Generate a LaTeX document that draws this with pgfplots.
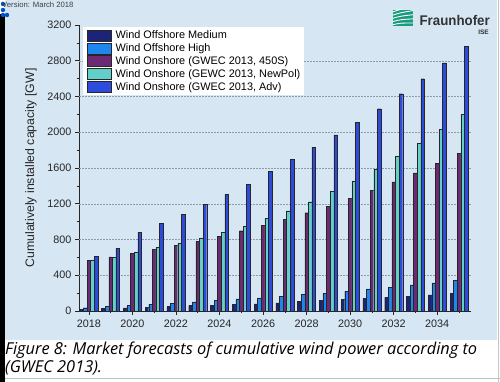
\documentclass[border=0pt]{standalone}
\usepackage{pgfplots}
\usepackage{pgfplotstable}
\pgfplotsset{compat=1.18}
\usepackage{fontspec}
\usepackage{graphicx}
\setmainfont{Liberation Sans}
\newfontfamily\capfont{Open Sans}
\definecolor{bgblue}{HTML}{D6E6F3}
\definecolor{cNavy}{HTML}{1C2478}
\definecolor{cLB}{HTML}{1E86EE}
\definecolor{cPur}{HTML}{6C2A74}
\definecolor{cCyan}{HTML}{62D0C8}
\definecolor{cBlue}{HTML}{2D4CDC}
\definecolor{fhgreen}{HTML}{179C7D}
\definecolor{gridc}{HTML}{8E9BA8}
\newlength\capw
\pgfplotstableread{
year navy lb pur cyan blue
2018 22 37 565 565 613
2019 30 49 606 598 703
2020 34 60 643 662 883
2021 41 75 688 711 980
2022 49 86 733 759 1081
2023 60 101 778 819 1197
2024 67 120 838 883 1309
2025 75 135 898 950 1417
2026 79 148 960 1034 1560
2027 90 161 1025 1122 1694
2028 105 183 1100 1223 1833
2029 116 198 1174 1339 1971
2030 127 221 1264 1455 2109
2031 142 247 1350 1586 2263
2032 153 266 1444 1728 2431
2033 161 292 1545 1874 2599
2034 180 314 1653 2031 2775
2035 198 340 1765 2199 2962
}\data
\begin{document}
\settowidth{\capw}{\capfont\itshape\fontsize{16.4}{18}\selectfont Figure 8: Market forecasts of cumulative wind power according to}%
\pgfmathsetmacro\capsx{472/\capw}%
\begin{tikzpicture}
\useasboundingbox (0pt,0pt) rectangle (500pt,382pt);
\fill[white] (0pt,0pt) rectangle (500pt,382pt);
\fill[bgblue] (5pt,42pt) rectangle (497pt,382pt);
\fill[black] (0pt,0pt) rectangle (5pt,368pt);
\draw[gray!45, line width=1pt] (498.5pt,0pt) -- (498.5pt,382pt);
\draw[gray!50, line width=0.8pt] (5pt,4pt) -- (500pt,4pt);
% icons top-left
\foreach \p in {(3pt,378pt),(3pt,372pt),(3pt,367pt),(7pt,367pt)}
  \fill[blue!60!cyan!80!black] \p circle (2.2pt);
\node[anchor=base west, inner sep=0pt, text=black!75] at (2pt,374.5pt) {\fontsize{7.7}{8}\selectfont Version: March 2018};
% logo
\begin{scope}
\clip (393pt,356pt) rectangle (413pt,372pt);
\fill[fhgreen] (393pt,356pt) rectangle (413pt,372pt);
\foreach \k in {0,1,2,3,4}
  \draw[white, line width=0.9pt] (392pt,357pt+\k*3.2pt) .. controls (400pt,359pt+\k*3.4pt) .. (414pt,359pt+\k*4.2pt);
\end{scope}
\node[anchor=base east, inner sep=0pt, text=black!80] at (490pt,356pt) {\scalebox{0.95}[1]{\fontsize{14}{14}\selectfont\bfseries Fraunhofer}};
\node[anchor=base east, inner sep=0pt, text=black!80] at (489pt,347.5pt) {\fontsize{6.5}{6.5}\selectfont\bfseries ISE};
% caption
\node[anchor=base west, inner sep=0pt] at (5pt,27pt) {\scalebox{\capsx}[1]{\capfont\itshape\fontsize{16.4}{18}\selectfont Figure 8: Market forecasts of cumulative wind power according to}};
\node[anchor=base west, inner sep=0pt] at (5pt,9pt) {\scalebox{\capsx}[1]{\capfont\itshape\fontsize{16.4}{18}\selectfont (GWEC 2013).}};
\begin{axis}[
  at={(79pt,71pt)}, anchor=south west, scale only axis,
  width=392pt, height=286pt,
  xmin=2017.55, xmax=2035.55, ymin=0, ymax=3200,
  axis x line*=bottom, axis y line*=left,
  axis line style={-, black!85, line width=0.6pt},
  tick align=outside, major tick length=4pt, minor tick length=2.5pt,
  tick style={black!85, line width=0.6pt},
  xtick={2018,2020,...,2034}, minor xtick={2019,2021,...,2035},
  ytick={0,400,...,3200}, minor ytick={200,600,...,3000},
  extra y ticks={400,800,...,2800}, extra y tick labels={},
  extra y tick style={grid=major, major tick length=0pt},
  major grid style={gridc, dash pattern=on 1.5pt off 1.5pt, line width=0.45pt},
  /pgf/number format/1000 sep={},
  /pgf/number format/assume math mode=true,
  ticklabel style={font=\fontsize{10.8}{12}\selectfont, text=black!85},
  xticklabel style={yshift=-1.5pt},
  ylabel={Cumulatively installed capacity [GW]},
  ylabel style={font=\fontsize{12.3}{14}\selectfont, at={(axis description cs:-0.1225,0.5)}, anchor=center, text=black!85},
  ybar=0pt, bar width=3.6pt,
  every axis plot/.append style={draw=black!85, line width=0.35pt},
  legend style={at={(rel axis cs:0,1)}, anchor=north west, xshift=4pt, yshift=-2pt,
    draw=none, fill=white, font=\fontsize{10.9}{12}\selectfont,
    inner xsep=4pt, inner ysep=2.5pt, row sep=1.5pt,
    nodes={inner sep=0pt, anchor=west},
    /tikz/every odd column/.append style={column sep=4pt}},
  legend cell align=left,
  legend image code/.code={\draw[#1, line width=0.4pt] (0pt,-5.5pt) rectangle (24pt,5.5pt);},
]
\addplot[fill=cNavy] table[x=year, y=navy] {\data};
\addplot[fill=cLB] table[x=year, y=lb] {\data};
\addplot[fill=cPur] table[x=year, y=pur] {\data};
\addplot[fill=cCyan] table[x=year, y=cyan] {\data};
\addplot[fill=cBlue] table[x=year, y=blue] {\data};
\legend{Wind Offshore Medium, Wind Offshore High, {Wind Onshore (GWEC 2013, 450S)}, {Wind Onshore (GEWC 2013, NewPol)}, {Wind Onshore (GWEC 2013, Adv)}}
\end{axis}
\end{tikzpicture}
\end{document}
